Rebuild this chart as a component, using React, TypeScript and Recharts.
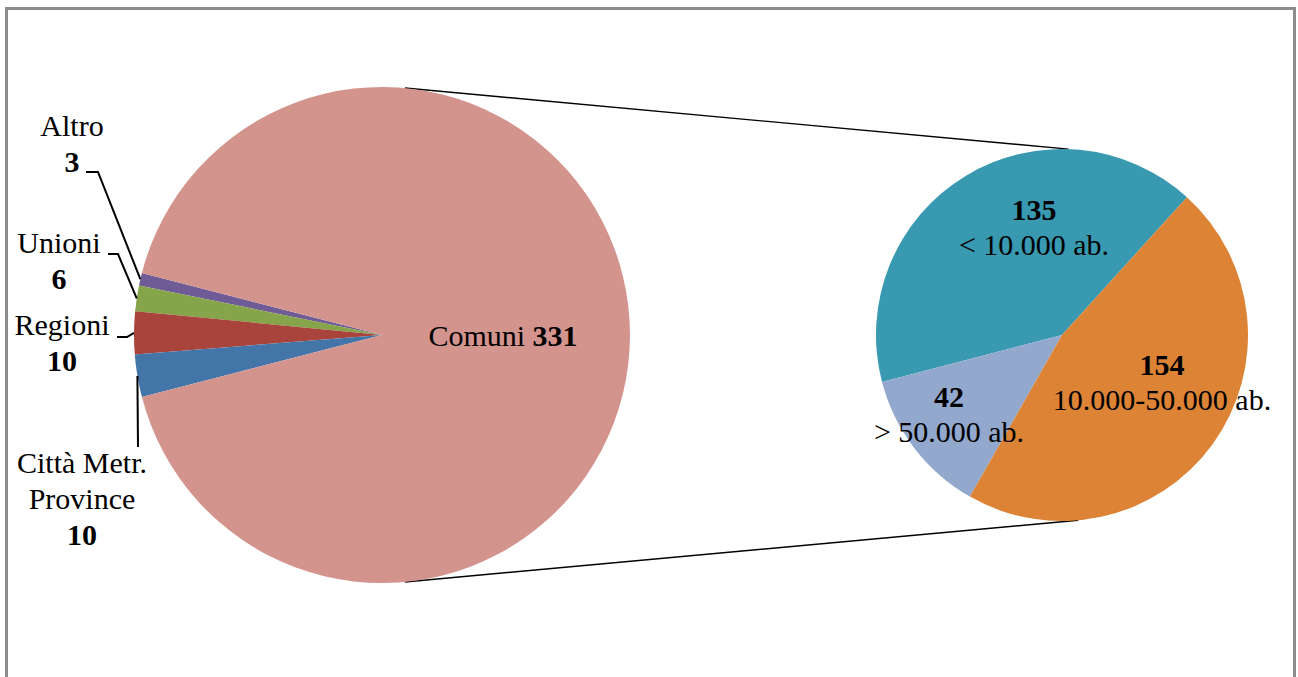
import React from "react";
import { Cell, Pie, PieChart } from "recharts";

// enti (big pie)
const enteNames = ["Altro", "Unioni", "Regioni", "Città Metr. Province", "Comuni"];
const enteValues = [3, 6, 10, 10, 331];
const enteColors = ["#6F5C97", "#86A44A", "#A9443D", "#4475A8", "#D4948E"];

// comuni split (small pie)
const comuniNames = ["< 10.000 ab.", "> 50.000 ab.", "10.000-50.000 ab."];
const comuniValues = [135, 42, 154];
const comuniColors = ["#3899B0", "#93A8CD", "#DC8336"];

const enteData = enteNames.map((name, i) => ({ name, value: enteValues[i] }));
const comuniData = comuniNames.map((name, i) => ({ name, value: comuniValues[i] }));

const W = 1298;
const H = 677;
const BIG = { cx: 382, cy: 335, r: 248 };
const SMALL = { cx: 1062, cy: 335, r: 186 };
const FONT = "'Liberation Serif', 'Times New Roman', serif";
const FS = 30;
const RAD = Math.PI / 180;

// label placement relative to pie centre
const enteLabelPos = [
  { dx: -310, dy: -199, lines: ["Altro"], leader: [[-296, -163], [-284, -163]] },
  { dx: -323, dy: -82, lines: ["Unioni"], leader: [[-274, -81], [-264, -81]] },
  { dx: -320, dy: 0, lines: ["Regioni"], leader: [[-265, 2], [-255, 2]] },
  { dx: -300, dy: 138, lines: ["Città Metr.", "Province"], leader: [[-244, 112]] },
];
const comuniLabelPos = [
  { dx: -28, dy: -115 },
  { dx: -113, dy: 72 },
  { dx: 100, dy: 40 },
];

const polar = (cx: number, cy: number, r: number, a: number) => ({
  x: cx + r * Math.cos(a * RAD),
  y: cy - r * Math.sin(a * RAD),
});

function renderEnteLabel(props: any) {
  const { cx, cy, midAngle, outerRadius, index } = props;
  const value = enteValues[index];
  if (index === 4) {
    return (
      <text x={cx + 121} y={cy + 11} textAnchor="middle" fontFamily={FONT} fontSize={FS} fill="#000">
        Comuni <tspan fontWeight="bold">{value}</tspan>
      </text>
    );
  }
  const pos = enteLabelPos[index];
  const edge = polar(cx, cy, outerRadius, midAngle);
  const pts = pos.leader.map(([x, y]) => `${cx + x},${cy + y}`).concat(`${edge.x},${edge.y}`);
  return (
    <g>
      <polyline points={pts.join(" ")} fill="none" stroke="#000" strokeWidth={2} />
      <text x={cx + pos.dx} y={cy + pos.dy} textAnchor="middle" fontFamily={FONT} fontSize={FS} fill="#000">
        {pos.lines.map((l, i) => (
          <tspan key={i} x={cx + pos.dx} dy={i === 0 ? 0 : 36}>
            {l}
          </tspan>
        ))}
        <tspan x={cx + pos.dx} dy={36} fontWeight="bold">
          {value}
        </tspan>
      </text>
    </g>
  );
}

function renderComuniLabel(props: any) {
  const { cx, cy, index } = props;
  const pos = comuniLabelPos[index];
  return (
    <text x={cx + pos.dx} y={cy + pos.dy} textAnchor="middle" fontFamily={FONT} fontSize={FS} fill="#000">
      <tspan x={cx + pos.dx} fontWeight="bold">
        {comuniValues[index]}
      </tspan>
      <tspan x={cx + pos.dx} dy={35}>
        {comuniNames[index]}
      </tspan>
    </text>
  );
}

export default function App() {
  const bigTop = polar(BIG.cx, BIG.cy, BIG.r, 84.7);
  const bigBottom = polar(BIG.cx, BIG.cy, BIG.r, 275.3);
  const smallTop = polar(SMALL.cx, SMALL.cy, SMALL.r, 88);
  const smallBottom = polar(SMALL.cx, SMALL.cy, SMALL.r, 275);

  return (
    <div style={{ position: "absolute", left: 0, top: 0, width: W, height: H, overflow: "hidden", background: "#fff" }}>
      <div
        style={{
          position: "absolute",
          left: 5,
          top: 7,
          width: 1285,
          height: 670,
          borderTop: "3px solid #8c8c8c",
          borderLeft: "3px solid #8c8c8c",
          borderRight: "3px solid #8c8c8c",
        }}
      />
      <svg width={W} height={H} style={{ position: "absolute", left: 0, top: 0 }}>
        <line x1={bigTop.x} y1={bigTop.y} x2={smallTop.x} y2={smallTop.y} stroke="#000" strokeWidth={1.4} />
        <line x1={bigBottom.x} y1={bigBottom.y} x2={smallBottom.x} y2={smallBottom.y} stroke="#000" strokeWidth={1.4} />
      </svg>
      <div style={{ position: "absolute", left: 0, top: 0 }}>
        <PieChart width={W} height={H} margin={{ top: 0, right: 0, bottom: 0, left: 0 }}>
          <Pie
            data={enteData}
            dataKey="value"
            nameKey="name"
            cx={BIG.cx}
            cy={BIG.cy}
            outerRadius={BIG.r}
            startAngle={165.5}
            endAngle={525.5}
            stroke="none"
            label={renderEnteLabel}
            labelLine={false}
            isAnimationActive={false}
          >
            {enteData.map((d, i) => (
              <Cell key={d.name} fill={enteColors[i]} stroke="none" />
            ))}
          </Pie>
          <Pie
            data={comuniData}
            dataKey="value"
            nameKey="name"
            cx={SMALL.cx}
            cy={SMALL.cy}
            outerRadius={SMALL.r}
            startAngle={47.8}
            endAngle={407.8}
            stroke="none"
            label={renderComuniLabel}
            labelLine={false}
            isAnimationActive={false}
          >
            {comuniData.map((d, i) => (
              <Cell key={d.name} fill={comuniColors[i]} stroke="none" />
            ))}
          </Pie>
        </PieChart>
      </div>
    </div>
  );
}
